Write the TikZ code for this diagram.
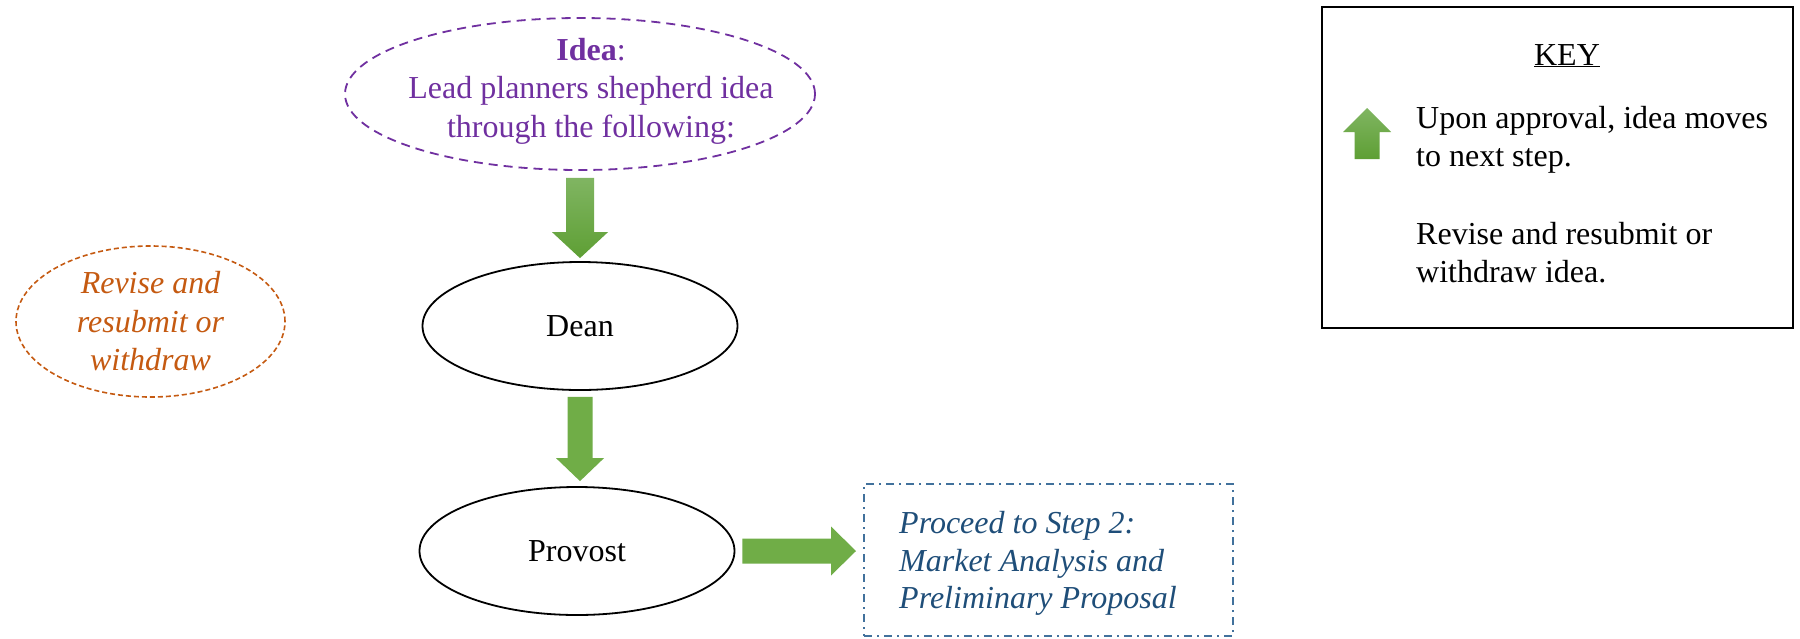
\documentclass[tikz,border=0pt]{standalone}
\usepackage{fontspec}
\setmainfont{Liberation Serif}
\usetikzlibrary{shapes.geometric,calc}
\definecolor{ideapurple}{HTML}{7030A0}
\definecolor{reviseorange}{HTML}{C55A11}
\definecolor{stepblue}{HTML}{1F4E79}
\definecolor{stepborder}{HTML}{41719C}
\definecolor{flatgreen}{HTML}{70AD47}
\definecolor{gradtop}{HTML}{80B562}
\definecolor{gradbot}{HTML}{5E9F34}
\newcommand\downblock[6]{\path[#1] let \p1=(#2), \p2=(#3) in
  (\x1-#4,\y1) -- (\x1+#4,\y1) -- (\x1+#4,\y2+#6) -- (\x1+#5,\y2+#6) -- (\x1,\y2)
  -- (\x1-#5,\y2+#6) -- (\x1-#4,\y2+#6) -- cycle;}
\newcommand\rightblock[6]{\path[#1] let \p1=(#2), \p2=(#3) in
  (\x1,\y1+#4) -- (\x2-#6,\y1+#4) -- (\x2-#6,\y1+#5) -- (\x2,\y1) -- (\x2-#6,\y1-#5)
  -- (\x2-#6,\y1-#4) -- (\x1,\y1-#4) -- cycle;}
\tikzset{
  txt/.style={font=\fontsize{32}{38.5}\selectfont, inner sep=0pt},
  ell/.style={ellipse, draw, inner sep=0pt, line width=1.8pt},
  ideaell/.style={ell, draw=ideapurple, dash pattern=on 9pt off 6pt},
  reviseell/.style={ell, draw=reviseorange, dash pattern=on 5pt off 3pt, line width=1.6pt},
  personell/.style={ell, draw=black, minimum width=315pt, minimum height=128pt},
  stepbox/.style={rectangle, draw=stepborder, line width=2pt, dash pattern=on 8pt off 5pt on 2pt off 5pt},
  gradarrow/.style={top color=gradtop, bottom color=gradbot, draw=none},
  flatarrow/.style={fill=flatgreen, draw=none},
}
\begin{document}
\begin{tikzpicture}[x=1pt,y=-1pt]
\useasboundingbox (0,0) rectangle (1800,638);
\fill[white] (0,0) rectangle (1800,638);

% Idea ellipse and its text
\node[ideaell, minimum width=470pt, minimum height=152pt] (idea) at (580,94) {};
\node[txt, text=ideapurple, align=center] (ideatext) at (591,91)
  {\textbf{Idea}:\\Lead planners shepherd idea\\through the following:};

% Dean and Provost
\node[personell, txt] (dean) at (580,326) {Dean};
\node[personell, txt] (provost) at (577,551) {Provost};

% Revise ellipse
\node[reviseell, txt, minimum width=269pt, minimum height=151pt, text=reviseorange, align=center]
  (revise) at (150.5,321.5) {\itshape Revise and\\\itshape resubmit or\\\itshape withdraw};

% Proceed box and its text
\node[stepbox, minimum width=369pt, minimum height=152pt] (proceed) at (1048.5,560) {};
\node[txt, font=\fontsize{32}{37.5}\selectfont\itshape, anchor=west, align=left, text=stepblue]
  (proceedtext) at (899,563.5) {Proceed to Step 2:\\Market Analysis and\\Preliminary Proposal};

% Block arrows
\downblock{gradarrow}{$(idea.south)+(0,7)$}{$(dean.north)+(0,-3)$}{14pt}{28pt}{26pt}
\downblock{flatarrow}{$(dean.south)+(0,6)$}{$(provost.north)+(0,-5)$}{12.5pt}{24pt}{23pt}
\rightblock{flatarrow}{$(provost.east)+(7,0)$}{$(proceed.west)+(-7,0)$}{12.5pt}{24.5pt}{25pt}

% Key
\node[rectangle, draw=black, line width=2.2pt, minimum width=471pt, minimum height=321pt] (keybox) at (1557.5,167.5) {};
\node[txt, anchor=base] (keytitle) at (1567,65) {\underline{KEY}};
\shade[gradarrow] (1354.5,159) -- (1379.5,159) -- (1379.5,132) -- (1391,132) -- (1367,108)
  -- (1343,132) -- (1354.5,132) -- cycle;
\node[txt, anchor=west, align=left] (keyapprove) at (1416,140) {Upon approval, idea moves\\to next step.};
\node[txt, anchor=west, align=left] (keyrevise) at (1416,252.5) {Revise and resubmit or\\withdraw idea.};
\end{tikzpicture}
\end{document}
